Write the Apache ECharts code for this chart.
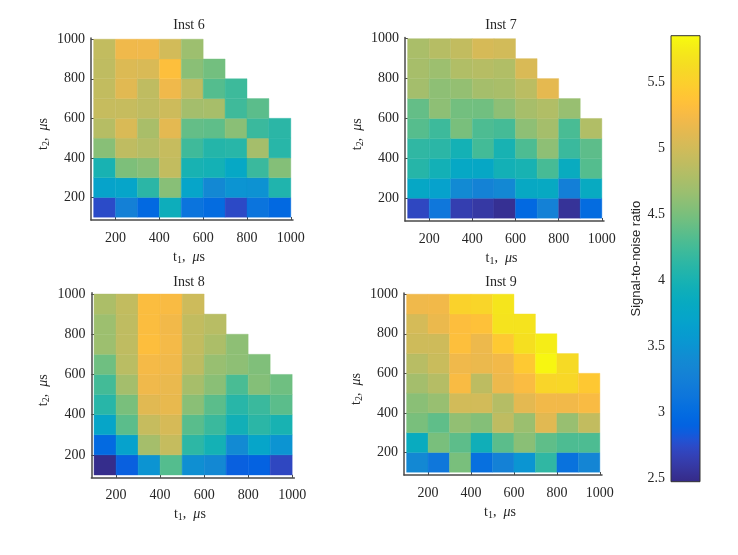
<!DOCTYPE html>
<html><head><meta charset="utf-8">
<script src="https://cdn.jsdelivr.net/npm/echarts@6/dist/echarts.min.js"></script>
<style>html,body{margin:0;padding:0;background:#fff}#c{width:738px;height:555px}</style>
</head><body><div id="c"></div>
<script>
// lower edges of the cells (µs); each cell spans 100 µs
const t1Edges = [100, 200, 300, 400, 500, 600, 700, 800, 900];
const t2Edges = [100, 200, 300, 400, 500, 600, 700, 800, 900];
const cellSize = 100;
const xTicks = [200, 400, 600, 800, 1000];
const yTicks = [200, 400, 600, 800, 1000];
const cbTicks = [2.5, 3, 3.5, 4, 4.5, 5, 5.5];
const snrMin = 2.476, snrMax = 5.853;
const panelTitles = ['Inst 6', 'Inst 7', 'Inst 8', 'Inst 9'];

// rows from t2 = 100 (bottom) to t2 = 900 (top); values along t1 = 100..
const inst6 = [
  [2.75, 3.27, 2.97, 3.90, 3.10, 3.00, 2.74, 3.10, 2.97],
  [3.70, 3.72, 4.12, 4.57, 3.72, 3.38, 3.50, 3.48, 4.05],
  [4.00, 4.52, 4.57, 4.90, 4.00, 3.97, 3.78, 4.20, 4.55],
  [4.57, 4.88, 4.82, 4.93, 4.23, 4.08, 4.10, 4.73, 4.10],
  [4.83, 5.05, 4.75, 5.12, 4.40, 4.38, 4.58, 4.20, 4.12],
  [4.93, 4.93, 4.88, 4.97, 4.72, 4.74, 4.23, 4.36],
  [4.90, 5.10, 4.88, 5.20, 4.88, 4.33, 4.22],
  [4.88, 5.07, 5.05, 5.33, 4.58, 4.47],
  [4.90, 5.20, 5.20, 5.00, 4.68]
];
const inst7 = [
  [2.72, 3.15, 2.65, 2.60, 2.53, 2.97, 3.28, 2.55, 3.00],
  [3.77, 3.68, 3.40, 3.30, 3.38, 3.80, 3.82, 3.25, 3.83],
  [4.09, 3.96, 3.78, 3.77, 3.96, 4.00, 4.27, 3.85, 4.33],
  [4.15, 4.12, 3.97, 4.25, 4.00, 4.30, 4.60, 4.20, 4.37],
  [4.34, 4.22, 4.50, 4.30, 4.26, 4.60, 4.73, 4.28, 4.80],
  [4.40, 4.60, 4.47, 4.46, 4.60, 4.74, 4.80, 4.65],
  [4.72, 4.60, 4.63, 4.73, 4.75, 4.86, 5.13],
  [4.74, 4.68, 4.80, 4.83, 4.80, 5.05],
  [4.76, 4.83, 4.90, 5.03, 5.00]
];
const inst8 = [
  [2.50, 2.88, 3.50, 4.33, 3.45, 3.38, 2.88, 2.90, 2.72],
  [2.98, 3.68, 4.73, 4.92, 4.13, 3.97, 3.40, 3.72, 3.50],
  [3.73, 4.36, 4.93, 5.03, 4.35, 4.20, 3.95, 4.12, 4.00],
  [4.10, 4.50, 5.10, 5.15, 4.58, 4.36, 4.10, 4.20, 4.36],
  [4.25, 4.72, 5.20, 5.16, 4.74, 4.58, 4.28, 4.55, 4.45],
  [4.45, 4.85, 5.24, 5.20, 4.87, 4.65, 4.60, 4.53],
  [4.68, 4.88, 5.32, 5.23, 4.90, 4.77, 4.60],
  [4.68, 4.88, 5.30, 5.22, 4.90, 4.84],
  [4.77, 4.90, 5.30, 5.27, 4.97]
];
const inst9 = [
  [3.38, 3.15, 4.50, 3.05, 3.28, 3.52, 4.15, 3.08, 3.33],
  [3.85, 4.50, 4.37, 3.93, 4.36, 4.58, 4.38, 4.30, 4.30],
  [4.50, 4.38, 4.62, 4.55, 4.88, 4.67, 5.10, 4.65, 4.90],
  [4.58, 4.65, 5.00, 5.00, 4.82, 5.12, 5.22, 5.22, 5.27],
  [4.72, 4.82, 5.27, 4.87, 5.18, 5.28, 5.55, 5.57, 5.42],
  [4.84, 4.95, 5.20, 5.17, 5.22, 5.43, 5.82, 5.60],
  [4.98, 4.98, 5.33, 5.18, 5.43, 5.65, 5.76],
  [5.02, 5.17, 5.32, 5.35, 5.68, 5.68],
  [5.20, 5.22, 5.52, 5.55, 5.70]
];
const panels = [inst6, inst7, inst8, inst9];

// parula colormap (64 entries)
const parula = ['#352a87','#363093','#3637a0','#353dad','#3243ba','#2c4ac7','#2053d4','#0f5cdd',
  '#0363e1','#0268e1','#046de0','#0871de','#0d75dc','#1079da','#127dd8','#1481d6',
  '#1485d4','#1389d3','#108ed2','#0c93d2','#0998d1','#079ccf','#06a0cd','#06a4ca',
  '#06a7c6','#07a9c2','#0aacbe','#0faeb9','#15b1b4','#1db3af','#25b5a9','#2eb7a4',
  '#38b99e','#42bb98','#4dbc92','#59bd8c','#65be86','#71bf80','#7cbf7b','#87bf77',
  '#92bf73','#9cbf6f','#a5be6b','#aebe67','#b7bd64','#c0bc60','#c8bc5d','#d1bb59',
  '#d9ba56','#e1b952','#e9b94e','#f1b94a','#f8bb44','#fdbe3d','#ffc337','#fec832',
  '#fcce2e','#fad32a','#f7d826','#f5de21','#f5e41d','#f5eb18','#f6f313','#f9fb0e'];

const serif = '"Liberation Serif", "Times New Roman", serif';
const txt = '#262626';
const axisCol = '#4a4a4a';
const plain = v => String(v);

function toData(rows) {
  const out = [];
  rows.forEach((row, r) => row.forEach((v, c) => out.push([t1Edges[c], t2Edges[r], v])));
  return out;
}

const grids = [
  {left: 91, top: 38, width: 202, height: 182},
  {left: 405, top: 37.5, width: 199, height: 183.5},
  {left: 91.4, top: 292.8, width: 203, height: 185},
  {left: 404, top: 293, width: 198, height: 182}
];
const titlePos = [[189, 25], [501, 25], [189, 282], [501, 282]];

const nameRich = {
  i: {fontFamily: serif, fontSize: 14, color: txt, lineHeight: 16},
  m: {fontFamily: serif, fontSize: 14, color: txt, lineHeight: 16, fontStyle: 'italic'},
  s: {fontFamily: serif, fontSize: 10, color: txt, lineHeight: 6, verticalAlign: 'bottom'}
};

const option = {
  animation: false,
  backgroundColor: '#ffffff',
  grid: grids.map(g => Object.assign({containLabel: false}, g)).concat([
    {left: 671, top: 35.7, width: 29, height: 446}
  ]),
  xAxis: grids.map((g, i) => ({
    type: 'value', gridIndex: i, min: 88, max: 1010,
    splitLine: {show: false},
    axisLine: {lineStyle: {color: axisCol, width: 1.5}},
    axisTick: {inside: true, length: 3, customValues: xTicks, lineStyle: {color: axisCol}},
    axisLabel: {customValues: xTicks, formatter: plain, fontFamily: serif, fontSize: 14, color: txt, margin: 11},
    name: '{i|t}{s|1}{i|,  }{m|μ}{i|s}',
    nameLocation: 'middle', nameGap: 29,
    nameTextStyle: {rich: nameRich, padding: [0, 6, 0, 0]}
  })).concat([{type: 'value', gridIndex: 4, min: 0, max: 1, show: false}]),
  yAxis: grids.map((g, i) => ({
    type: 'value', gridIndex: i, min: 86, max: 1006,
    splitLine: {show: false},
    axisLine: {lineStyle: {color: axisCol, width: 1.5}},
    axisTick: {inside: true, length: 3, customValues: yTicks, lineStyle: {color: axisCol}},
    axisLabel: {customValues: yTicks, formatter: plain, fontFamily: serif, fontSize: 14, color: txt, margin: 6},
    name: '{i|t}{s|2}{i|,  }{m|μ}{i|s}',
    nameLocation: 'middle', nameGap: 40, nameRotate: 90,
    nameTextStyle: {rich: nameRich, padding: [0, 10, 0, 0]}
  })).concat([{
    type: 'value', gridIndex: 4, min: snrMin, max: snrMax, position: 'left',
    splitLine: {show: false},
    axisLine: {show: false},
    axisTick: {inside: true, length: 4, customValues: cbTicks, lineStyle: {color: '#333'}},
    axisLabel: {customValues: cbTicks, formatter: plain, fontFamily: serif, fontSize: 14, color: txt, margin: 6},
    name: 'Signal-to-noise ratio', nameLocation: 'middle', nameRotate: 90, nameGap: 28,
    nameTextStyle: {fontFamily: '"Liberation Sans", Arial, sans-serif', fontSize: 13, color: txt}
  }]),
  visualMap: {
    type: 'continuous', show: false, min: snrMin, max: snrMax, dimension: 2,
    seriesIndex: [0, 1, 2, 3], inRange: {color: parula}
  },
  graphic: panelTitles.map((t, i) => ({
    type: 'text', x: titlePos[i][0], y: titlePos[i][1],
    style: {text: t, font: '14px ' + serif, fill: txt, align: 'center', verticalAlign: 'middle'}
  })),
  series: panels.map((rows, i) => ({
    type: 'custom', xAxisIndex: i, yAxisIndex: i,
    dimensions: ['t1', 't2', 'snr'],
    encode: {x: 0, y: 1},
    data: toData(rows),
    renderItem: function (params, api) {
      const x0 = api.value(0), y0 = api.value(1);
      const p0 = api.coord([x0, y0 + cellSize]);
      const p1 = api.coord([x0 + cellSize, y0]);
      const c = api.visual('color');
      return {type: 'rect', shape: {x: p0[0], y: p0[1], width: p1[0] - p0[0], height: p1[1] - p0[1]},
        style: {fill: c, stroke: c, lineWidth: 0.4}};
    }
  })).concat([{
    type: 'custom', xAxisIndex: 4, yAxisIndex: 4, z: 1,
    data: [[0, snrMin, 1, snrMax]],
    encode: {x: [0, 2], y: [1, 3]},
    renderItem: function (params, api) {
      const p0 = api.coord([api.value(0), api.value(3)]);
      const p1 = api.coord([api.value(2), api.value(1)]);
      const n = parula.length;
      const stops = parula.map((c, k) => ({offset: 1 - k / (n - 1), color: c})).reverse();
      return {type: 'rect', shape: {x: p0[0], y: p0[1], width: p1[0] - p0[0], height: p1[1] - p0[1]},
        style: {fill: new echarts.graphic.LinearGradient(0, 0, 0, 1, stops), stroke: '#333', lineWidth: 1}};
    }
  }])
};

const chart = echarts.init(document.getElementById('c'), null, {renderer: 'canvas'});
chart.setOption(option);
</script></body></html>
